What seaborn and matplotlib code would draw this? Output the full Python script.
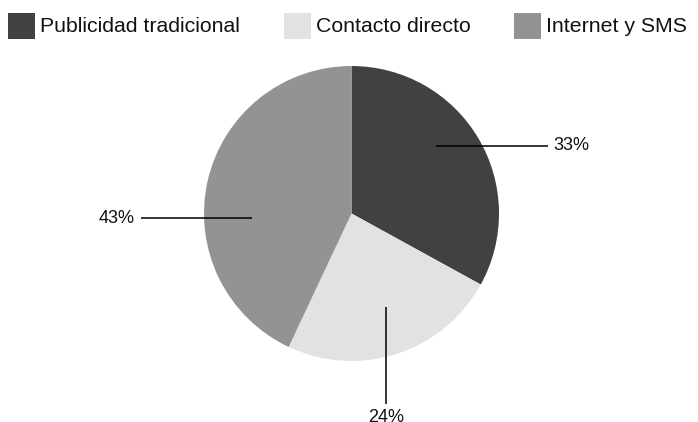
import matplotlib
matplotlib.use("Agg")
import matplotlib.pyplot as plt
from matplotlib.patches import Rectangle
import seaborn as sns

# Share of each channel (percent)
categories = ["Publicidad tradicional", "Contacto directo", "Internet y SMS"]
shares = [33, 24, 43]
value_labels = ["33%", "24%", "43%"]
colors = ["#414141", "#e1e2e3", "#939396"]

sns.set_theme(style="white")
plt.rcParams["font.family"] = ["Liberation Sans", "DejaVu Sans"]

W, H = 698, 422
fig = plt.figure(figsize=(W / 100, H / 100), dpi=100)
ax = fig.add_axes([0, 0, 1, 1])

wedges, _ = ax.pie(shares, colors=colors, startangle=90, counterclock=False,
                   radius=1.0, center=(0, 0),
                   wedgeprops=dict(linewidth=0))

# pie centre and radius in pixels; one data unit = one radius
cx, cy, R = 351.5, 213.5, 147.5
ax.set_xlim(-cx / R, (W - cx) / R)
ax.set_ylim((cy - H) / R, cy / R)
ax.set_aspect("equal")
ax.axis("off")

# leader lines: start inside slice, end outside, text alignment and offset
leaders = [
    ((0.573, 0.458), (1.332, 0.458), dict(ha="left", va="center"), (0.035, 0)),
    ((0.234, -0.634), (0.234, -1.292), dict(ha="center", va="top"), (0, -0.035)),
    ((-0.675, -0.031), (-1.427, -0.031), dict(ha="right", va="center"), (-0.045, 0)),
]
for lab, (p0, p1, align, off) in zip(value_labels, leaders):
    ax.plot([p0[0], p1[0]], [p0[1], p1[1]], color="black", lw=1.1,
            solid_capstyle="butt")
    ax.text(p1[0] + off[0], p1[1] + off[1], lab, fontsize=13, color="#111111",
            **align)

# legend row across the top
square_x = [8, 284, 514]
for x0, col, name in zip(square_x, colors, categories):
    fig.patches.append(Rectangle((x0 / W, 1 - 39 / H), 27 / W, 26 / H,
                                 transform=fig.transFigure, facecolor=col,
                                 edgecolor="none"))
    fig.text((x0 + 32) / W, 1 - 32 / H, name, fontsize=15.3,
             ha="left", va="baseline", color="#111111")

fig.savefig("out.png", dpi=100)
